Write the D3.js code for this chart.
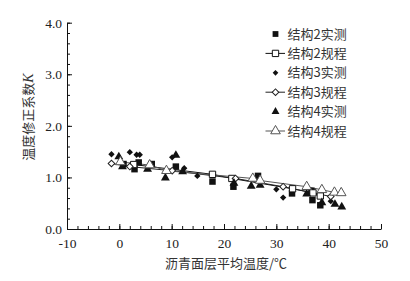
<!DOCTYPE html>
<html>
<head>
<meta charset="utf-8">
<script src="https://cdn.jsdelivr.net/npm/d3@7/dist/d3.min.js"></script>
<style>
  body { margin: 0; background: #fff; }
  svg { display: block; }
  .tick text { font-family: "Liberation Serif", "DejaVu Serif", serif; font-size: 13.5px; fill: #222; }
  .cjk { font-family: "Noto Sans CJK SC", sans-serif; font-size: 12.5px; fill: #333; }
</style>
</head>
<body>
<svg id="chart"></svg>
<script>
// data: [temperature, K]
var s2Meas = [[0.8, 1.26], [2.9, 1.16], [3.7, 1.29], [6.2, 1.26], [10.8, 1.21], [17.8, 0.92],
              [21.8, 0.82], [26.5, 1.03], [33.0, 0.69], [36.7, 0.74], [36.9, 0.56], [38.4, 0.46]];
var s2Code = [[2.75, 1.25], [17.8, 1.06], [21.5, 0.98], [33.1, 0.78], [37.0, 0.70], [38.4, 0.64]];
var s3Meas = [[-1.5, 1.45], [2.0, 1.49], [3.3, 1.44], [3.9, 1.44], [10.1, 1.39], [12.4, 1.18],
              [14.9, 1.03], [30.0, 0.77], [31.3, 0.61], [40.4, 0.54]];
var s3Code = [[-1.5, 1.27], [2.0, 1.21], [10.1, 1.13], [22.2, 0.98], [31.3, 0.82], [40.4, 0.63]];
var s4Meas = [[-0.1, 1.40], [0.6, 1.21], [5.4, 1.16], [8.8, 0.99], [10.8, 1.43], [12.1, 1.11],
              [21.9, 0.89], [25.2, 0.83], [26.9, 0.85], [35.8, 0.68], [38.7, 0.51], [41.2, 0.48], [42.5, 0.43]];
var s4Code = [[0.2, 1.30], [5.8, 1.24], [9.0, 1.13], [25.5, 0.98], [26.9, 0.94], [35.8, 0.82],
              [38.7, 0.76], [41.1, 0.71], [42.4, 0.70]];

var xTickValues = [-10, 0, 10, 20, 30, 40, 50];
var yTickValues = [0, 1, 2, 3, 4];
var legendNames = ["结构2实测", "结构2规程", "结构3实测", "结构3规程", "结构4实测", "结构4规程"];

var width = 410,
    height = 281,
    margin = {top: 22.7, right: 29, bottom: 52, left: 67},
    innerwidth = width - margin.left - margin.right,
    innerheight = height - margin.top - margin.bottom;

var xScale = d3.scaleLinear().domain([-10, 50]).range([0, innerwidth]),
    yScale = d3.scaleLinear().domain([0, 4]).range([innerheight, 0]);

var svg = d3.select("#chart").attr("width", width).attr("height", height);

var wrapper = svg.append("g")
    .attr("transform", "translate(" + margin.left + "," + margin.top + ")");

// minor ticks (inward)
wrapper.append("g")
    .attr("transform", "translate(0," + innerheight + ")")
    .call(d3.axisBottom(xScale).tickValues(d3.range(-10, 51, 2)).tickSize(-3).tickFormat(""))
    .call(function(g) { g.select(".domain").remove(); });
wrapper.append("g")
    .call(d3.axisLeft(yScale).tickValues(d3.range(0, 4.01, 0.2)).tickSize(-3).tickFormat(""))
    .call(function(g) { g.select(".domain").remove(); });

wrapper.append("g")
    .attr("transform", "translate(0," + innerheight + ")")
    .call(d3.axisBottom(xScale).tickValues(xTickValues).tickSize(-5).tickPadding(9).tickSizeOuter(0)
        .tickFormat(function(d) { return d < 0 ? "-" + Math.abs(d) : d; }));
wrapper.append("g")
    .call(d3.axisLeft(yScale).tickValues(yTickValues).tickSize(-5).tickPadding(5).tickSizeOuter(0)
        .tickFormat(d3.format(".1f")));
wrapper.selectAll(".domain, .tick line").attr("stroke", "#111");

// axis titles
svg.append("text")
    .attr("class", "cjk")
    .attr("x", 226)
    .attr("y", 268)
    .attr("text-anchor", "middle")
    .style("font-size", "13px")
    .text("沥青面层平均温度/℃");

var ylab = svg.append("text")
    .attr("class", "cjk")
    .attr("transform", "translate(33,117) rotate(-90)")
    .attr("text-anchor", "middle")
    .style("font-size", "13px");
ylab.append("tspan").text("温度修正系数");
ylab.append("tspan")
    .style("font-family", "Liberation Serif, serif")
    .style("font-style", "italic")
    .style("font-size", "14px")
    .text("K");

// diamonds are squares turned by 45 degrees
var styles = [
    {data: s2Meas, type: d3.symbolSquare, size: 42, rot: 0, fill: "#111", stroke: "none", line: false},
    {data: s2Code, type: d3.symbolSquare, size: 40, rot: 0, fill: "#fff", stroke: "#111", line: true},
    {data: s3Meas, type: d3.symbolSquare, size: 20, rot: 45, fill: "#111", stroke: "none", line: false},
    {data: s3Code, type: d3.symbolSquare, size: 22, rot: 45, fill: "#fff", stroke: "#222", line: true},
    {data: s4Meas, type: d3.symbolTriangle, size: 34, rot: 0, fill: "#111", stroke: "none", line: false},
    {data: s4Code, type: d3.symbolTriangle, size: 40, rot: 0, fill: "#fff", stroke: "#555", line: true}
];

var line = d3.line()
    .x(function(d) { return xScale(d[0]); })
    .y(function(d) { return yScale(d[1]); });

var content = wrapper.append("g");

styles.forEach(function(s) {
    if (s.line) {
        content.append("path")
            .datum(s.data)
            .attr("d", line)
            .attr("fill", "none")
            .attr("stroke", s.stroke)
            .attr("stroke-width", 1);
    }
});

styles.forEach(function(s) {
    content.selectAll(null)
        .data(s.data)
        .enter()
        .append("path")
        .attr("d", d3.symbol().type(s.type).size(s.size))
        .attr("transform", function(d) {
            return "translate(" + xScale(d[0]) + "," + yScale(d[1]) + ") rotate(" + s.rot + ")";
        })
        .attr("fill", s.fill)
        .attr("stroke", s.stroke)
        .attr("stroke-width", 1);
});

// legend
var legend = svg.append("g").attr("transform", "translate(275.5,34)");
legendNames.forEach(function(name, i) {
    var s = styles[i],
        g = legend.append("g").attr("transform", "translate(0," + (i * 19.4) + ")");
    if (s.line) {
        g.append("line")
            .attr("x1", -10).attr("x2", 9.5)
            .attr("stroke", s.stroke)
            .attr("stroke-width", 1);
    }
    g.append("path")
        .attr("d", d3.symbol().type(s.type).size(s.line ? s.size : s.size * 0.8))
        .attr("transform", "rotate(" + s.rot + ")")
        .attr("fill", s.fill)
        .attr("stroke", s.stroke)
        .attr("stroke-width", 1);
    g.append("text")
        .attr("class", "cjk")
        .attr("x", 12)
        .attr("dy", "0.36em")
        .style("font-size", "13px")
        .text(name);
});
</script>
</body>
</html>
